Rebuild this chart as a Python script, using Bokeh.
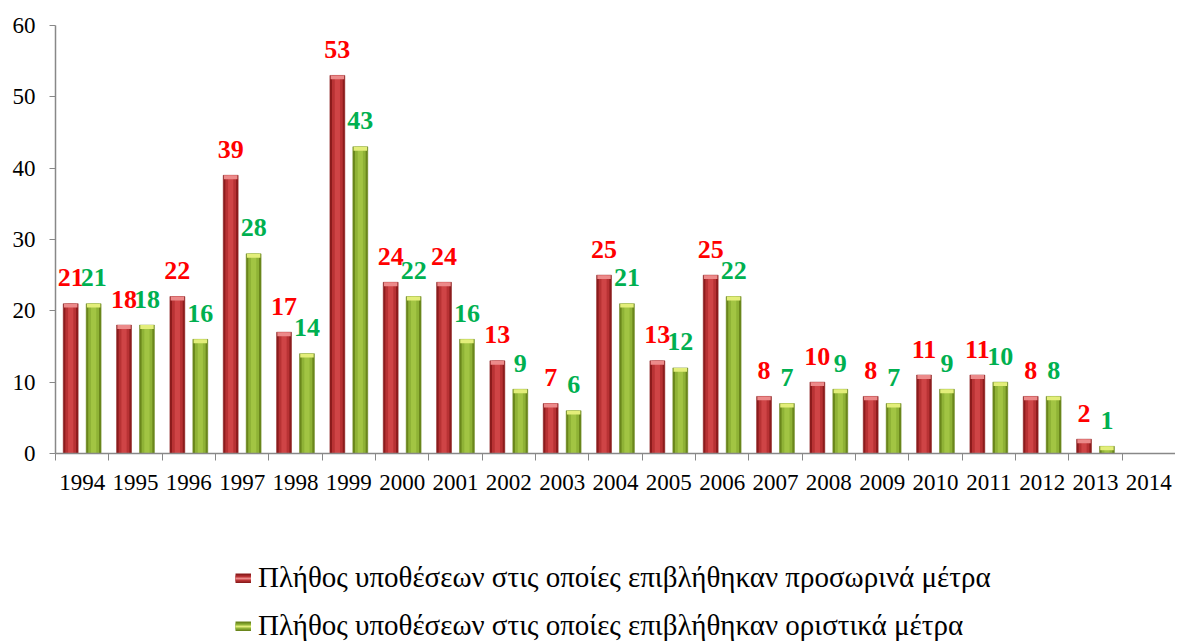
from bokeh.plotting import figure
from bokeh.layouts import column
from bokeh.models import Range1d, FixedTicker, Legend, LegendItem, ColumnDataSource
from bokeh.embed import file_html
from bokeh.resources import INLINE

years = [str(y) for y in range(1994, 2015)]
provisional = [21, 18, 22, 39, 17, 53, 24, 24, 13, 7, 25, 13, 25, 8, 10, 8, 11, 11, 8, 2, None]
final = [21, 18, 16, 28, 14, 43, 22, 16, 9, 6, 21, 12, 22, 7, 9, 7, 9, 10, 8, 1, None]
y_ticks = [0, 10, 20, 30, 40, 50, 60]
legend_labels = ["Πλήθος υποθέσεων στις οποίες επιβλήθηκαν προσωρινά μέτρα",
                 "Πλήθος υποθέσεων στις οποίες επιβλήθηκαν οριστικά μέτρα"]

FONT = "Liberation Serif"
n = len(years)
centers = [i + 0.5 for i in range(n)]

p = figure(width=1175, height=500, output_backend="svg", toolbar_location=None,
           x_range=Range1d(0, n), y_range=Range1d(0, 60),
           min_border_left=55, min_border_right=0, min_border_top=25, min_border_bottom=47)
p.outline_line_color = None
p.xgrid.visible = False
p.ygrid.visible = False
p.background_fill_color = "white"
p.border_fill_color = "white"

def series(vals, off):
    xs, ys = [], []
    for c, v in zip(centers, vals):
        if v is not None:
            xs.append(c + off)
            ys.append(v)
    return xs, ys

BW = 0.28
OFF = 0.215

styles = [
    dict(vals=provisional, off=-OFF, edge="#8c1c1d", mid="#b83234", light="#cf4446", cap="#ec8a8a", text="#ff0000"),
    dict(vals=final, off=OFF, edge="#6a861c", mid="#8fb236", light="#a2c443", cap="#e3ee7a", text="#00b050"),
]

# legend figure (its key renderers hold one out-of-view sample, only for the key)
p2 = figure(width=1175, height=142, output_backend="svg", toolbar_location=None,
            x_range=Range1d(0, 1), y_range=Range1d(0, 1),
            x_axis_location=None, y_axis_location=None,
            min_border_left=0, min_border_right=0, min_border_top=0, min_border_bottom=0)
p2.outline_line_color = None
p2.xgrid.visible = False
p2.ygrid.visible = False

items = []
for s, lab in zip(styles, legend_labels):
    xs, ys = series(s["vals"], s["off"])
    src = ColumnDataSource(dict(x=xs, top=ys, capb=[max(v - 0.55, 0) for v in ys], lbl=[str(v) for v in ys]))
    p.vbar(x="x", top="top", bottom=0, width=BW, source=src,
           fill_color=s["edge"], line_color=s["edge"], line_width=0.5)
    p.vbar(x="x", top="top", bottom=0, width=BW * 0.72, source=src,
           fill_color=s["mid"], line_color=None)
    p.vbar(x="x", top="top", bottom=0, width=BW * 0.35, source=src,
           fill_color=s["light"], line_color=None)
    p.vbar(x="x", top="top", bottom="capb", width=BW * 0.9, source=src,
           fill_color=s["cap"], line_color=None)
    p.text(x="x", y="top", text="lbl", source=src, text_align="center",
           text_baseline="alphabetic", y_offset=-26, text_color=s["text"],
           text_font={"value": FONT}, text_font_style="bold", text_font_size="26px")
    key_src = ColumnDataSource(dict(x=[-5.0, -4.0], y=[-5.0, -5.0]))
    k1 = p2.line(x="x", y="y", source=key_src, line_color=s["edge"], line_width=10, line_cap="butt")
    k2 = p2.line(x="x", y="y", source=key_src, line_color=s["mid"], line_width=6, line_cap="butt")
    k3 = p2.line(x="x", y="y", source=key_src, line_color=s["cap"], line_width=2, line_cap="butt")
    items.append(LegendItem(label=lab, renderers=[k1, k2, k3]))

# X axis
xa = p.xaxis[0]
xa.ticker = FixedTicker(ticks=centers, minor_ticks=list(range(n + 1)))
xa.major_label_overrides = {c: y for c, y in zip(centers, years)}
xa.major_tick_line_color = None
xa.minor_tick_line_color = "#888888"
xa.minor_tick_out = 7
xa.minor_tick_in = 0
xa.axis_line_color = "#888888"
xa.axis_line_width = 1.5
xa.major_label_text_font = FONT
xa.major_label_text_font_size = "23px"
xa.major_label_text_color = "#000000"
xa.major_label_standoff = 14

ya = p.yaxis[0]
ya.ticker = FixedTicker(ticks=y_ticks)
ya.major_tick_out = 6
ya.major_tick_in = 0
ya.minor_tick_line_color = None
ya.axis_line_color = "#888888"
ya.axis_line_width = 1.5
ya.major_tick_line_color = "#888888"
ya.major_label_text_font = FONT
ya.major_label_text_font_size = "23px"
ya.major_label_text_color = "#000000"
ya.major_label_standoff = 14

legend = Legend(items=items, location=(180, 0), orientation="vertical",
                label_text_font=FONT, label_text_font_size="29px", label_text_color="#000000",
                glyph_width=16, glyph_height=10, spacing=15, padding=0, margin=0,
                label_standoff=7, border_line_color=None, background_fill_alpha=0)
p2.add_layout(legend, "center")

open("out.html", "w").write(file_html(column(p, p2), INLINE))
